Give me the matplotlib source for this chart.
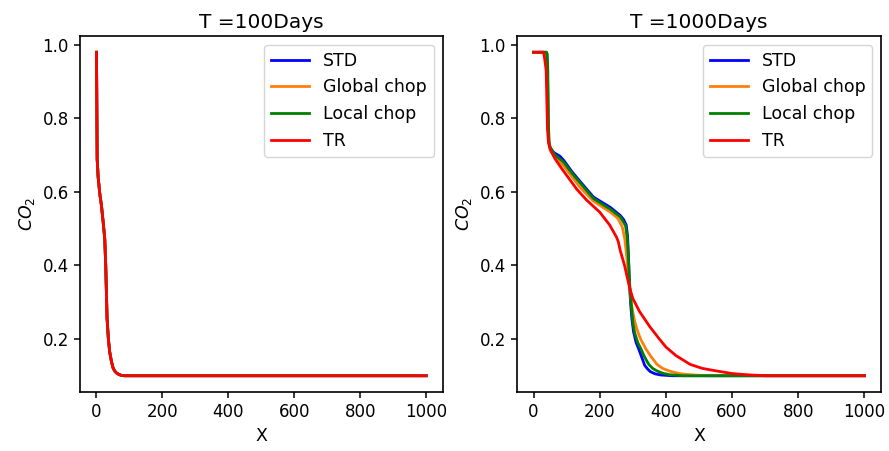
import matplotlib
matplotlib.use("Agg")
import matplotlib.pyplot as plt

# T = 100 days: all four schemes overlap
x_100 = [0, 2, 5, 10, 15, 20, 25, 28, 32, 36, 40, 45, 50, 55, 60, 67, 75, 85, 100, 200, 400, 600, 800, 1000]
y_100 = [0.98, 0.69, 0.64, 0.595, 0.563, 0.52, 0.473, 0.40, 0.257, 0.20, 0.165, 0.14, 0.122, 0.113, 0.108, 0.104, 0.101, 0.100,
         0.100, 0.100, 0.100, 0.100, 0.100, 0.100]

# T = 1000 days
x_std = [0, 38, 40, 42, 43, 44, 46, 50, 58, 65, 80, 91, 116, 141, 181, 232, 262, 272, 280, 284, 287, 290, 293, 297, 302,
         310, 318, 327, 336, 345, 353, 368, 385, 420, 1000]
y_std = [0.98, 0.98, 0.975, 0.93, 0.85, 0.78, 0.735, 0.72, 0.71, 0.705, 0.697, 0.686, 0.655, 0.628, 0.586, 0.558, 0.536,
         0.525, 0.51, 0.48, 0.42, 0.345, 0.30, 0.255, 0.22, 0.19, 0.172, 0.15, 0.128, 0.118, 0.111, 0.105, 0.102, 0.100, 0.100]

x_glob = [0, 38, 40, 42, 43, 44, 46, 50, 65, 90, 141, 181, 232, 255, 268, 276, 282, 287, 290, 295, 300, 306, 312, 318, 325,
          340, 355, 373, 390, 413, 440, 470, 520, 1000]
y_glob = [0.98, 0.98, 0.975, 0.93, 0.85, 0.78, 0.735, 0.72, 0.695, 0.672, 0.612, 0.575, 0.545, 0.528, 0.505, 0.47, 0.42,
          0.37, 0.34, 0.30, 0.272, 0.247, 0.228, 0.212, 0.197, 0.172, 0.152, 0.131, 0.12, 0.112, 0.106, 0.103, 0.100, 0.100]

x_loc = [0, 39, 41, 43, 44, 45, 47, 50, 65, 90, 116, 141, 181, 232, 262, 278, 283, 286, 289, 292, 296, 300, 306, 315, 324,
         335, 348, 360, 373, 390, 410, 450, 1000]
y_loc = [0.98, 0.98, 0.975, 0.93, 0.85, 0.78, 0.735, 0.722, 0.70, 0.682, 0.651, 0.624, 0.582, 0.553, 0.532, 0.508, 0.475,
         0.43, 0.37, 0.33, 0.285, 0.245, 0.215, 0.19, 0.174, 0.152, 0.131, 0.12, 0.113, 0.107, 0.103, 0.100, 0.100]

x_tr = [0, 30, 33, 36, 38, 40, 42, 45, 50, 65, 80, 100, 130, 160, 200, 230, 250, 256, 262, 275, 285, 290, 300, 320, 350,
        380, 400, 430, 473, 510, 553, 600, 640, 700, 1000]
y_tr = [0.98, 0.98, 0.965, 0.945, 0.93, 0.85, 0.77, 0.735, 0.715, 0.69, 0.67, 0.645, 0.608, 0.578, 0.545, 0.51, 0.478,
        0.465, 0.44, 0.40, 0.36, 0.34, 0.31, 0.275, 0.235, 0.2, 0.178, 0.155, 0.131, 0.12, 0.113, 0.106, 0.103, 0.100, 0.100]

labels = ["STD", "Global chop", "Local chop", "TR"]
colors = ["blue", "#ff7f0e", "green", "red"]

plt.rcParams["font.size"] = 12

fig = plt.figure(figsize=(8.89, 4.51), dpi=100)
ax1 = fig.add_axes([0.090, 0.131, 0.408, 0.789])
ax2 = fig.add_axes([0.5816, 0.131, 0.4094, 0.789])

for lab, c in zip(labels, colors):
    ax1.plot(x_100, y_100, color=c, lw=2, label=lab)

series = [(x_std, y_std), (x_glob, y_glob), (x_loc, y_loc), (x_tr, y_tr)]
for (xs, ys), lab, c in zip(series, labels, colors):
    ax2.plot(xs, ys, color=c, lw=2, label=lab)

for ax, title in [(ax1, "T =100Days"), (ax2, "T =1000Days")]:
    ax.set_title(title, fontsize=14.5)
    ax.set_xlabel("X", fontsize=12.5)
    ax.set_ylabel("$CO_2$", fontsize=12.5)
    ax.set_yticks([0.2, 0.4, 0.6, 0.8, 1.0])
    ax.tick_params(labelsize=12, length=4.5, width=1.1)
    for s in ax.spines.values():
        s.set_linewidth(1.2)
    ax.legend(loc="upper right", fontsize=12.5, handlelength=2.2)

fig.savefig("out.png", dpi=100)
